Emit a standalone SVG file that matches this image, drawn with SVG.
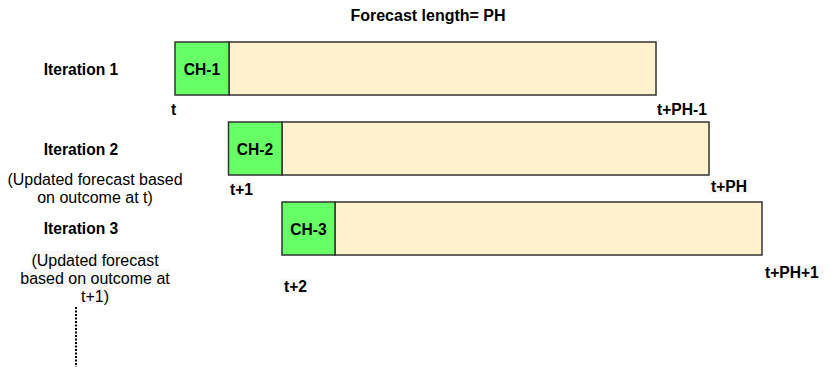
<svg xmlns="http://www.w3.org/2000/svg" width="831" height="367" viewBox="0 0 831 367">
<style>
.bg{fill:#ffffff}
.ch{fill:#66ff66;stroke:#333333;stroke-width:1.5}
.fc{fill:#fff2cc;stroke:#333333;stroke-width:1.5}
.b{font-family:"Liberation Sans",Arial,sans-serif;font-weight:bold;font-size:15.6px;fill:#000}
.t{font-family:"Liberation Sans",Arial,sans-serif;font-weight:bold;font-size:16px;fill:#000}
.r{font-family:"Liberation Sans",Arial,sans-serif;font-size:16px;fill:#000}
.hl{fill:#f8f8f8}
</style>
<rect class="bg" x="0" y="0" width="831" height="367"/>
<text class="t" x="428" y="21" text-anchor="middle">Forecast length= PH</text>

<g id="iteration1">
<text class="b" x="81" y="75" text-anchor="middle">Iteration 1</text>
<rect class="fc" x="229" y="42" width="427" height="53"/>
<rect class="ch" x="175" y="42" width="54" height="53"/>
<text class="b" x="202" y="75" text-anchor="middle">CH-1</text>
<text class="b" x="171" y="115">t</text>
<text class="b" x="657" y="115">t+PH-1</text>
</g>

<g id="iteration2">
<text class="b" x="81" y="155" text-anchor="middle">Iteration 2</text>
<text class="r" x="95" y="185" text-anchor="middle">(Updated forecast based</text>
<text class="r" x="95" y="203" text-anchor="middle">on outcome at t)</text>
<rect class="fc" x="282" y="122" width="427" height="53"/>
<rect class="ch" x="228.5" y="122" width="53.5" height="53"/>
<text class="b" x="255" y="155" text-anchor="middle">CH-2</text>
<rect class="hl" x="229" y="182" width="26" height="15"/>
<text class="b" x="230" y="195">t+1</text>
<rect class="hl" x="709" y="179" width="42" height="15"/>
<text class="b" x="711" y="192">t+PH</text>
</g>

<g id="iteration3">
<text class="b" x="81" y="234" text-anchor="middle">Iteration 3</text>
<rect class="hl" x="31" y="251" width="128" height="18"/>
<rect class="hl" x="20" y="269" width="150" height="18"/>
<rect class="hl" x="80" y="287" width="30" height="17"/>
<text class="r" x="95" y="266" text-anchor="middle">(Updated forecast</text>
<text class="r" x="95" y="284" text-anchor="middle">based on outcome at</text>
<text class="r" x="95" y="302" text-anchor="middle">t+1)</text>
<rect class="fc" x="335" y="202" width="427" height="53"/>
<rect class="ch" x="282" y="202" width="53" height="53"/>
<text class="b" x="308.5" y="235" text-anchor="middle">CH-3</text>
<rect class="hl" x="283" y="279" width="26" height="15"/>
<text class="b" x="284" y="292">t+2</text>
<rect class="hl" x="763" y="265" width="60" height="15"/>
<text class="b" x="765" y="278">t+PH+1</text>
</g>

<g id="connectors">
<line x1="76" y1="307" x2="76" y2="367" stroke="#000" stroke-width="2" stroke-dasharray="2 1.5"/>
</g>
</svg>
